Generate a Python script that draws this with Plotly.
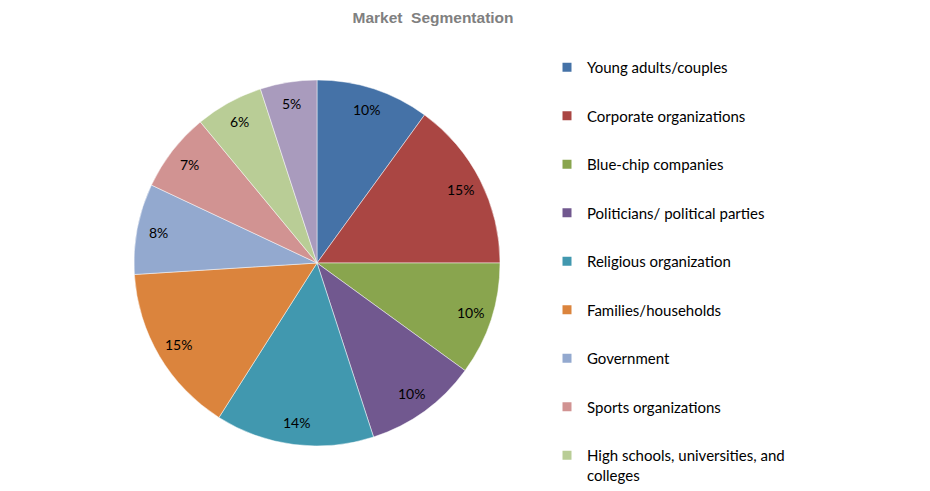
import numpy as np
import plotly.graph_objects as go

categories = ["Young adults/couples", "Corporate organizations", "Blue-chip companies",
              "Politicians/ political parties", "Religious organization", "Families/households",
              "Government", "Sports organizations", "High schools, universities, and<br>colleges",
              "Others"]
values = [10, 15, 10, 10, 14, 15, 8, 7, 6, 5]
colors = ["#4572A7", "#AA4643", "#89A54E", "#71588F", "#4198AF", "#DB843D",
          "#93A9CF", "#D19392", "#B9CD96", "#A99BBD"]
legend_count = 9  # the last entry is cut off in the original

W, H = 930, 491
cx_px, cy_px, r_px = 317, 263, 183
dom_x = [(cx_px - r_px) / W, (cx_px + r_px) / W]
dom_y = [1 - (cy_px + r_px) / H, 1 - (cy_px - r_px) / H]

fig = go.Figure()
fig.add_trace(go.Pie(
    labels=categories, values=values, sort=False, direction="clockwise", rotation=0,
    marker=dict(colors=colors, line=dict(color="rgba(255,255,255,0.6)", width=0.8)),
    textinfo="none", hoverinfo="label+percent", showlegend=False,
    domain=dict(x=dom_x, y=dom_y),
))

# percentage labels placed along each slice bisector
vals = np.array(values, dtype=float)
frac = vals / vals.sum()
mid = np.cumsum(frac) - frac / 2
theta = np.pi / 2 - 2 * np.pi * mid
label_r = 0.88 * r_px
for f, t in zip(frac, theta):
    x_px = cx_px + label_r * np.cos(t)
    y_px = cy_px - label_r * np.sin(t)
    fig.add_annotation(x=x_px / W, y=1 - y_px / H, xref="paper", yref="paper",
                       xanchor="center", yanchor="middle",
                       text=f"{round(f * 100)}%", showarrow=False,
                       font=dict(family="Lato", size=14, color="#000000"))

# legend entries
for i in range(legend_count):
    fig.add_trace(go.Scatter(
        x=[None], y=[None], mode="markers", name=categories[i],
        marker=dict(symbol="square", size=9, color=colors[i]),
        legendgroup=f"g{i}", showlegend=True,
    ))

fig.update_layout(
    width=W, height=H,
    margin=dict(l=0, r=0, t=0, b=0),
    paper_bgcolor="white", plot_bgcolor="white",
    title=dict(text="<b>Market  Segmentation</b>", x=433 / W, xanchor="center",
               y=1 - 18 / H, yanchor="middle",
               font=dict(family="Liberation Sans", size=15.5, color="#808080")),
    xaxis=dict(visible=False), yaxis=dict(visible=False),
    legend=dict(x=547 / W, y=1 - 64 / H, xanchor="left", yanchor="top",
                font=dict(family="Lato", size=15, color="#000000"),
                tracegroupgap=26, valign="top", itemwidth=30,
                bgcolor="rgba(0,0,0,0)"),
)

fig.write_html("out.html")
